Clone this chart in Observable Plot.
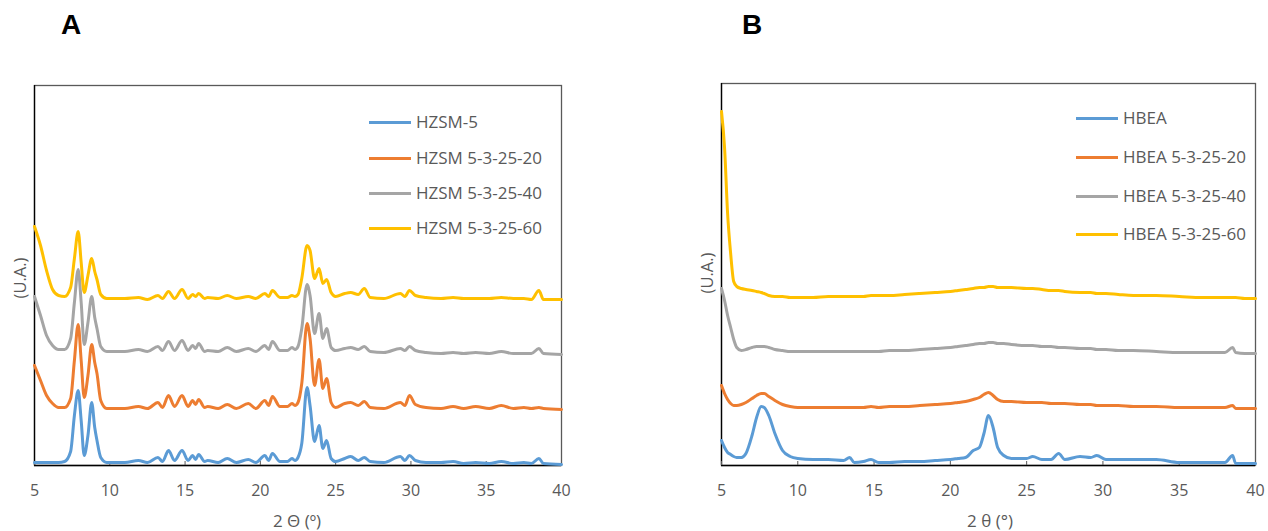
<!DOCTYPE html>
<html>
<head>
<meta charset="utf-8">
<script src="https://cdn.jsdelivr.net/npm/d3@7"></script>
<script src="https://cdn.jsdelivr.net/npm/@observablehq/plot@0.6"></script>
<style>
  html, body { margin: 0; padding: 0; background: #fff; }
  #wrap { position: relative; width: 1268px; height: 531px; overflow: hidden; font-family: "Open Sans", sans-serif; color: #595959; }
  .abs { position: absolute; white-space: nowrap; line-height: 1; }
  .letter { font-family: "Liberation Sans", Arial, sans-serif; font-weight: bold; font-size: 28px; color: #000; }
  .lgline { position: absolute; height: 3px; }
  .lgtext { font-size: 17px; }
  .ttl { font-size: 17px; transform: translateX(-50%); }
  .ylab { font-size: 16.5px; transform: translate(-50%, -50%) rotate(-90deg); }
</style>
</head>
<body>
<div id="wrap"></div>
<script>
// ---------- Data ----------
const xTicks = [5, 10, 15, 20, 25, 30, 35, 40];
const colors = ["#5B9BD5", "#ED7D31", "#A5A5A5", "#FFC000"];

// Panel A: HZSM-5 samples (2θ grid and intensities, arbitrary units incl. stacking offset)
const namesA = ["HZSM-5", "HZSM 5-3-25-20", "HZSM 5-3-25-40", "HZSM 5-3-25-60"];
const thetaA = [5, 5.4, 5.8, 6.2, 6.6, 7.0, 7.4, 7.65, 7.9, 8.1, 8.3, 8.55, 8.8, 9.0, 9.15, 9.4, 9.8, 11.0, 11.9, 12.5,
  13.2, 13.5, 13.9, 14.3, 14.8, 15.2, 15.5, 15.7, 15.9, 16.3, 16.5, 17.2, 17.8, 18.4, 19.2, 19.7, 20.3, 20.55, 20.8, 21.3,
  21.8, 22.1, 22.3, 22.5, 22.75, 23.1, 23.3, 23.6, 23.9, 24.15, 24.4, 24.7, 25.0, 25.6, 26.0, 26.5, 26.9, 27.3, 28.2, 29.3,
  29.6, 29.9, 30.3, 31.0, 32.0, 32.8, 33.5, 34.3, 35.2, 36.0, 36.8, 37.5, 38.0, 38.5, 38.8, 40];
const hzsm5 = [3, 3, 3, 3, 3, 4, 14, 50, 75, 45, 10, 30, 63, 38, 25, 8, 3, 3, 5, 3,
  8, 4, 15, 5, 15, 5, 10, 6, 11, 4, 5, 3, 7, 3, 6, 3, 10, 5, 12, 4,
  4, 7, 5, 8, 22, 78, 60, 24, 40, 17, 25, 7, 4, 7, 9, 5, 8, 4, 3, 9,
  5, 10, 5, 3, 3, 4, 2, 3, 2, 4, 2, 3, 2, 7, 2, 1];
const hzsm20 = [100, 85, 70, 62, 58, 58, 67, 105, 141, 105, 68, 90, 121, 103, 92, 65, 57, 57, 59, 57,
  63, 58, 70, 59, 70, 59, 65, 61, 66, 58, 59, 57, 61, 57, 62, 57, 65, 60, 69, 59,
  59, 62, 60, 63, 82, 142, 127, 80, 106, 77, 87, 63, 58, 62, 63, 60, 64, 58, 57, 63,
  60, 70, 61, 58, 57, 59, 57, 59, 57, 60, 57, 58, 57, 58, 57, 56];
const hzsm40 = [169, 150, 130, 120, 116, 116, 127, 163, 196, 163, 121, 143, 169, 148, 137, 119, 114, 114, 116, 114,
  119, 115, 124, 115, 125, 115, 120, 117, 122, 114, 115, 114, 118, 114, 117, 114, 120, 116, 124, 115,
  115, 118, 116, 119, 137, 181, 170, 132, 152, 127, 137, 118, 115, 117, 118, 116, 119, 114, 113, 117,
  115, 119, 115, 113, 112, 113, 112, 113, 112, 114, 112, 112, 112, 117, 112, 111];
const hzsm60 = [239, 220, 195, 176, 170, 169, 178, 207, 234, 203, 173, 190, 207, 194, 186, 171, 167, 167, 168, 166,
  170, 167, 174, 167, 176, 167, 171, 169, 172, 167, 168, 167, 170, 167, 169, 167, 172, 169, 175, 168,
  168, 170, 169, 171, 187, 220, 215, 187, 197, 182, 186, 173, 169, 172, 173, 171, 177, 168, 167, 172,
  169, 175, 170, 168, 167, 168, 167, 167, 167, 168, 167, 167, 166, 175, 166, 166];

// Panel B: HBEA samples
const namesB = ["HBEA", "HBEA 5-3-25-20", "HBEA 5-3-25-40", "HBEA 5-3-25-60"];
const thetaB = [5, 5.2, 5.4, 5.6, 5.8, 6.0, 6.3, 6.6, 7.0, 7.3, 7.6, 7.8, 8.1, 8.5, 9.0, 9.5, 10, 11, 12, 13,
  13.4, 13.7, 14.3, 14.8, 15.3, 16, 17, 18, 19, 20, 20.5, 21, 21.5, 21.9, 22.2, 22.5, 22.8, 23.1, 23.5, 24,
  25, 25.4, 26, 26.6, 27.1, 27.5, 28.5, 29.2, 29.6, 30.2, 31, 32, 33.5, 35, 36.5, 38, 38.5, 38.7, 39.3, 40];
const hbea = [25, 18, 13, 11, 9, 8, 8, 12, 30, 48, 59, 58, 50, 32, 15, 9, 7, 6, 6, 5,
  8, 3, 4, 6, 3, 3, 4, 4, 5, 6, 7, 8, 15, 18, 32, 50, 38, 18, 10, 7,
  7, 9, 6, 6, 12, 6, 9, 8, 10, 6, 6, 6, 6, 3, 3, 3, 10, 2, 2, 2];
const hbea20 = [80, 72, 66, 62, 60, 60, 61, 63, 67, 70, 72, 72, 69, 65, 61, 59, 58, 58, 58, 58,
  58, 58, 58, 59, 58, 59, 59, 60, 61, 62, 63, 64, 66, 68, 71, 73, 70, 66, 64, 64,
  63, 63, 63, 62, 62, 62, 61, 61, 60, 60, 60, 59, 59, 58, 58, 58, 60, 57, 57, 57];
const hbea40 = [177, 165, 150, 138, 126, 118, 115, 116, 118, 119, 119, 119, 118, 116, 115, 114, 114, 114, 114, 114,
  114, 114, 114, 114, 114, 115, 115, 116, 117, 118, 119, 120, 121, 122, 122, 123, 123, 122, 122, 121,
  120, 120, 119, 119, 118, 118, 117, 117, 116, 116, 115, 115, 114, 113, 113, 113, 118, 113, 112, 112];
const hbea60 = [354, 318, 252, 212, 184, 179, 177, 176, 175, 174, 173, 172, 170, 169, 169, 168, 168, 168, 169, 169,
  169, 169, 169, 170, 170, 170, 171, 172, 173, 174, 175, 176, 177, 178, 178, 179, 179, 178, 178, 178,
  177, 177, 176, 175, 175, 174, 173, 173, 172, 172, 171, 170, 170, 169, 168, 168, 168, 168, 167, 167];

// ---------- Drawing ----------
const wrap = document.getElementById("wrap");

function rowsFor(theta, names, seriesList) {
  const rows = [];
  seriesList.forEach((vals, i) => vals.forEach((v, j) => rows.push({name: names[i], x: theta[j], y: v})));
  return rows;
}

function panel(cfg) {
  const rows = rowsFor(cfg.theta, cfg.names, cfg.series);
  const svg = Plot.plot({
    width: cfg.width,
    height: 531,
    marginLeft: cfg.ml,
    marginRight: cfg.mr,
    marginTop: cfg.mt,
    marginBottom: 66,
    style: {fontFamily: "Open Sans, sans-serif", fontSize: "16px", color: "#595959", background: "transparent", overflow: "visible"},
    x: {domain: [5, 40]},
    y: {domain: [0, cfg.ymax], axis: null},
    color: {domain: cfg.names, range: colors},
    marks: [
      Plot.frame({stroke: "#595959", strokeWidth: 1.3}),
      Plot.ruleX([5], {stroke: "#000", strokeWidth: 1.3}),
      Plot.ruleY([0], {stroke: "#000", strokeWidth: 1.3}),
      Plot.ruleX(xTicks, {x: d => d, y1: 0, y2: 0, insetTop: -4, stroke: "#595959"}),
      Plot.lineY(rows, {x: "x", y: "y", z: "name", stroke: "name", strokeWidth: 3, curve: "monotone-x", strokeLinejoin: "round"}),
      Plot.axisX({ticks: xTicks, tickSize: 0, tickPadding: 19, fontSize: 16, tickFormat: d => String(d), label: null})
    ]
  });
  svg.style.position = "absolute";
  svg.style.left = cfg.left + "px";
  svg.style.top = "0px";
  wrap.appendChild(svg);

  const L = document.createElement("div");
  L.className = "abs letter";
  L.textContent = cfg.letter;
  L.style.left = cfg.letterX + "px";
  L.style.top = "11px";
  wrap.appendChild(L);

  const T = document.createElement("div");
  T.className = "abs ttl";
  T.textContent = cfg.xtitle;
  T.style.left = cfg.xtitleX + "px";
  T.style.top = (521 - 9) + "px";
  wrap.appendChild(T);

  const Y = document.createElement("div");
  Y.className = "abs ylab";
  Y.textContent = "(U.A.)";
  Y.style.left = cfg.ylabX + "px";
  Y.style.top = cfg.ylabY + "px";
  wrap.appendChild(Y);

  cfg.names.forEach((n, i) => {
    const yc = cfg.legY[i];
    const ln = document.createElement("div");
    ln.className = "lgline";
    ln.style.left = cfg.legX + "px";
    ln.style.width = cfg.legW + "px";
    ln.style.top = (yc - 1.5) + "px";
    ln.style.background = colors[i];
    wrap.appendChild(ln);
    const tx = document.createElement("div");
    tx.className = "abs lgtext";
    tx.textContent = n;
    tx.style.left = (cfg.legX + cfg.legW + 5) + "px";
    tx.style.top = (yc - 9) + "px";
    wrap.appendChild(tx);
  });
}

panel({
  left: 0, width: 600, ml: 34, mr: 39, mt: 85, ymax: 380,
  theta: thetaA, names: namesA, series: [hzsm5, hzsm20, hzsm40, hzsm60],
  letter: "A", letterX: 61, xtitle: "2 Θ (º)", xtitleX: 297, ylabX: 20, ylabY: 278,
  legX: 369, legW: 42, legY: [122, 158, 193, 228]
});
panel({
  left: 680, width: 588, ml: 41, mr: 13, mt: 83, ymax: 382,
  theta: thetaB, names: namesB, series: [hbea, hbea20, hbea40, hbea60],
  letter: "B", letterX: 742, xtitle: "2 θ (°)", xtitleX: 990, ylabX: 707, ylabY: 273,
  legX: 1076, legW: 42, legY: [118, 157, 196, 234]
});
</script>
</body>
</html>
